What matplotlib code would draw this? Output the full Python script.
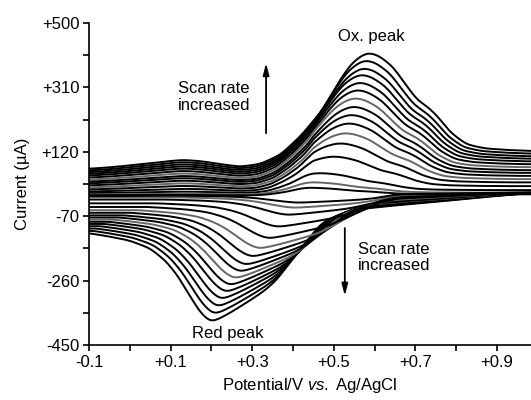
import numpy as np
import matplotlib
matplotlib.use('Agg')
import matplotlib.pyplot as plt

plt.rcParams['font.family'] = ['Liberation Sans', 'DejaVu Sans']
plt.rcParams['mathtext.fontset'] = 'custom'
plt.rcParams['mathtext.it'] = 'Liberation Sans:italic'
plt.rcParams['mathtext.rm'] = 'Liberation Sans'

# ---- data ----
# outermost (fastest scan) voltammogram, anodic (forward) branch
fwd_E = [-0.10, -0.05, 0.00, 0.05, 0.10, 0.13, 0.17, 0.22, 0.27, 0.32, 0.37, 0.42,
         0.47, 0.51, 0.54, 0.565, 0.585, 0.61, 0.645, 0.68, 0.705, 0.73, 0.755,
         0.785, 0.825, 0.87, 0.93, 1.00]
fwd_I = [70, 74, 80, 86, 93, 96, 93, 84, 76, 84, 112, 168,
         240, 322, 376, 402, 413, 404, 371, 312, 272, 253, 224,
         178, 142, 130, 125, 122]
# outermost voltammogram, cathodic (reverse) branch (listed by increasing potential)
rev_E = [-0.10, -0.05, 0.00, 0.05, 0.09, 0.12, 0.14, 0.17, 0.197, 0.22, 0.25, 0.29,
         0.33, 0.36, 0.40, 0.42, 0.47, 0.54, 0.66, 0.80, 0.90, 1.00]
rev_I = [-120, -130, -142, -165, -204, -250, -290, -350, -383, -372, -352, -322,
         -290, -258, -195, -164, -90, -52, -37, -22, -10, 0]

# peak positions / currents for each scan rate (outer -> inner)
ox_E = [0.585, 0.578, 0.573, 0.567, 0.562, 0.557, 0.551, 0.547, 0.541, 0.535,
        0.527, 0.514, 0.498, 0.465, 0.445, 0.435]
ox_I = [411, 389, 366, 347, 324, 302, 278, 253, 229, 204, 175, 145, 106, 57, 30, 14]
red_E = [0.197, 0.205, 0.213, 0.222, 0.233, 0.243, 0.255, 0.268, 0.281, 0.297,
         0.315, 0.338, 0.360, 0.385, 0.400, 0.410]
red_I = [-381, -358, -336, -314, -293, -273, -253, -233, -213, -189, -165, -135,
         -101, -66, -45, -30]
fwd_start = [70, 65, 60, 55, 50, 44, 38, 32, 27, 21, 15, 9, 3, -2, -6, -9]
line_gray = [False, False, False, False, False, False, True, False, False, False,
             True, False, False, False, True, False]

x_ticks = [-0.1, 0.1, 0.3, 0.5, 0.7, 0.9]
x_ticklabels = ['-0.1', '+0.1', '+0.3', '+0.5', '+0.7', '+0.9']
y_ticks = [-450, -260, -70, 120, 310, 500]
y_ticklabels = ['-450', '-260', '-70', '+120', '+310', '+500']

# ---- build smooth templates ----
G = np.linspace(-0.1, 1.0, 1101)


def smooth(y, sigma_pts=10):
    k = np.arange(-3 * sigma_pts, 3 * sigma_pts + 1)
    w = np.exp(-0.5 * (k / sigma_pts) ** 2)
    w /= w.sum()
    yp = np.concatenate([np.full(3 * sigma_pts, y[0]), y, np.full(3 * sigma_pts, y[-1])])
    return np.convolve(yp, w, mode='valid')


Tf = smooth(np.interp(G, fwd_E, fwd_I))
Tr = smooth(np.interp(G, rev_E, rev_I))

fig = plt.figure(figsize=(5.31, 4.0), dpi=100)
ax = fig.add_axes([89 / 531, 55 / 400, 442 / 531, 322 / 400])

E = G
for k in range(len(ox_E)):
    ramp_f = np.clip((E - 0.3) / 0.15, 0, 1)
    uf = E - (ox_E[k] - ox_E[0]) * ramp_f
    s_f = (ox_I[k] - fwd_start[k]) / (ox_I[0] - fwd_start[0])
    If = fwd_start[k] + s_f * (np.interp(uf, G, Tf) - fwd_start[0])

    ramp_r = np.clip((0.9 - E) / 0.3, 0, 1)
    ur = E - (red_E[k] - red_E[0]) * ramp_r
    s_r = red_I[k] / red_I[0]
    Ir = s_r * np.interp(ur, G, Tr)

    xs = np.concatenate([E, E[::-1]])
    ys = np.concatenate([If, Ir[::-1]])
    col = '#666666' if line_gray[k] else 'black'
    ax.plot(xs, ys, color=col, lw=1.4, solid_joinstyle='round', clip_on=True)

ax.set_xlim(-0.1, -0.1 + 442 / 408)
ax.set_ylim(-450, 500)
for sp in ['top', 'right']:
    ax.spines[sp].set_visible(False)
for sp in ['left', 'bottom']:
    ax.spines[sp].set_linewidth(1.2)

ax.set_xticks(x_ticks)
ax.set_xticklabels(x_ticklabels)
ax.set_xticks([0.0, 0.2, 0.4, 0.6, 0.8], minor=True)
ax.set_yticks(y_ticks)
ax.set_yticklabels(y_ticklabels)
ax.set_yticks([-355, -165, 25, 215, 405], minor=True)
ax.tick_params(which='both', direction='out', length=4, width=1.2, labelsize=12, pad=3)

ax.set_xlabel('Potential/V $\\mathit{vs.}$ Ag/AgCl', fontsize=12)
ax.xaxis.set_label_coords(0.5, -0.097)
ax.set_ylabel('Current (µA)', fontsize=12)
ax.yaxis.set_label_coords(-0.134, 0.5)

ax.text(0.591, 459, 'Ox. peak', fontsize=12, ha='center', va='center')
ax.text(0.24, -417, 'Red peak', fontsize=12, ha='center', va='center')
ax.text(0.118, 282, 'Scan rate\nincreased', fontsize=12, ha='left', va='center',
        linespacing=1.15)
ax.text(0.559, -192, 'Scan rate\nincreased', fontsize=12, ha='left', va='center',
        linespacing=1.15)

arrow = dict(arrowstyle='-|>,head_width=0.18,head_length=0.7', lw=1.3, color='black',
             shrinkA=0, shrinkB=0)
ax.annotate('', xy=(0.334, 382), xytext=(0.334, 175), arrowprops=arrow)
ax.annotate('', xy=(0.527, -305), xytext=(0.527, -105), arrowprops=arrow)

fig.savefig('out.png', dpi=100)
